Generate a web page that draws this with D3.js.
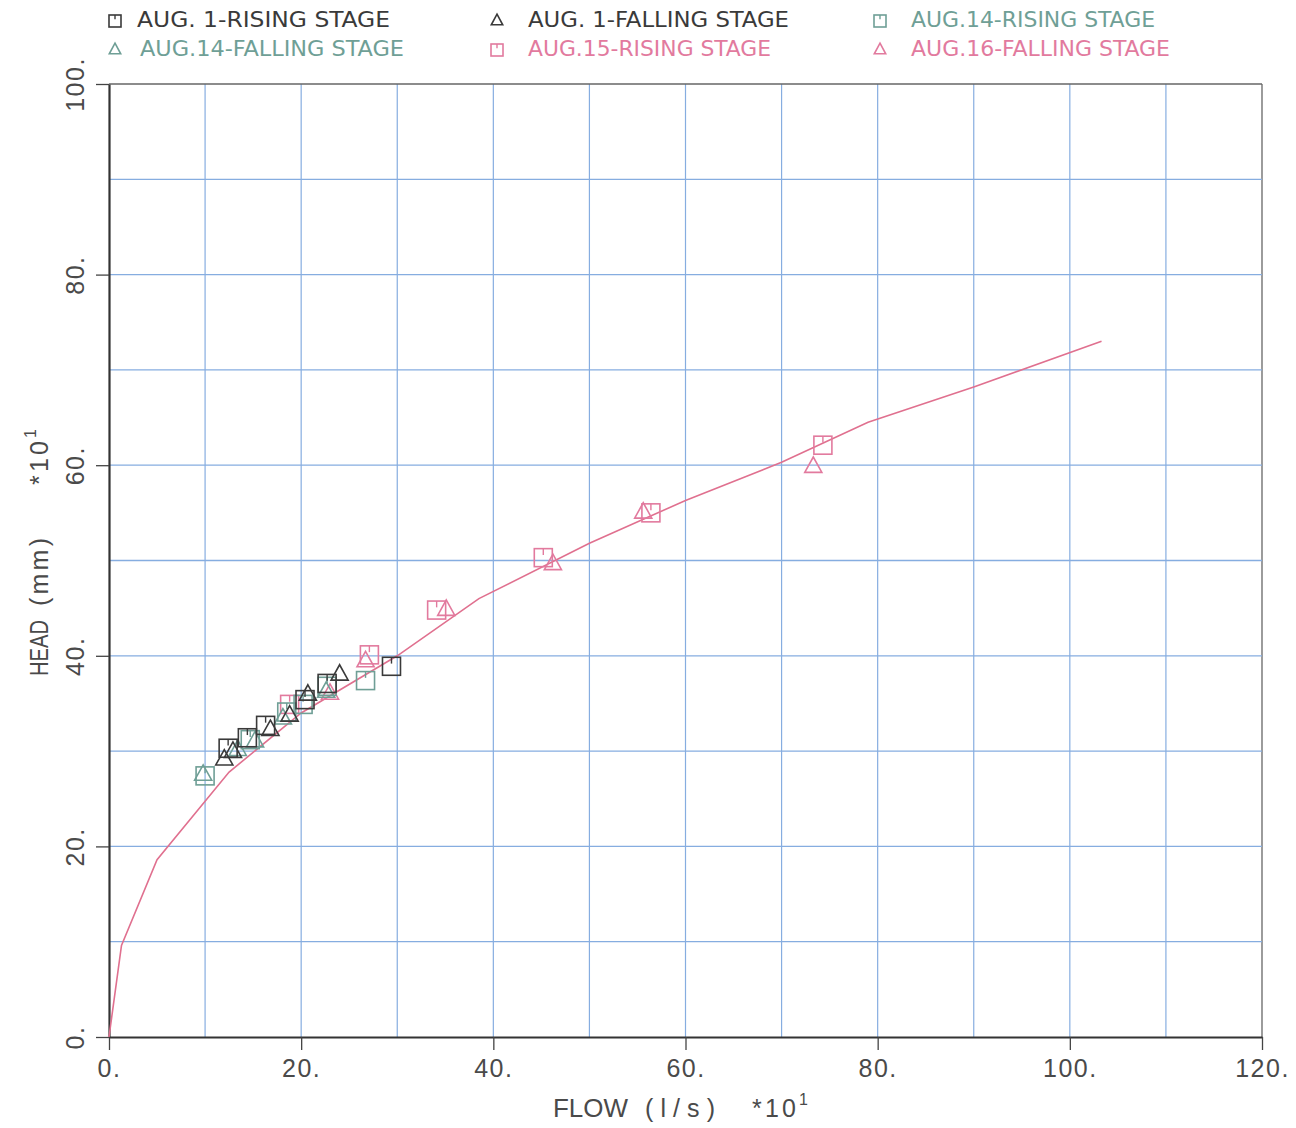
<!DOCTYPE html>
<html>
<head>
<meta charset="utf-8">
<script src="https://cdn.jsdelivr.net/npm/d3@7"></script>
<style>
  html, body { margin: 0; padding: 0; background: #ffffff; }
  svg { display: block; }
</style>
</head>
<body>
<svg id="chart" width="1296" height="1128"></svg>
<script>
// ---- data (units: flow *10 l/s, head *10 mm) ----
const curveFlow = [0, 1.3, 5.0, 12.5, 20.0, 30.0, 38.5, 50.0, 60.0, 70.0, 79.0, 90.0, 103.3];
const curveHead = [0, 9.6, 18.6, 27.8, 34.0, 40.0, 46.0, 51.8, 56.3, 60.3, 64.5, 68.2, 73.0];

const aug1RiseFlow = [12.4, 14.4, 16.3, 20.4, 22.7, 29.4];
const aug1RiseHead = [30.3, 31.4, 32.7, 35.4, 37.1, 38.9];
const aug1FallFlow = [12.0, 12.9, 16.8, 18.8, 20.7, 24.0];
const aug1FallHead = [29.3, 30.1, 32.4, 33.9, 36.1, 38.2];
const aug14RiseFlow = [10.0, 14.7, 18.5, 20.2, 22.7, 26.7];
const aug14RiseHead = [27.4, 31.2, 34.1, 34.9, 36.8, 37.4];
const aug14FallFlow = [9.8, 13.4, 15.2, 18.1, 22.6];
const aug14FallHead = [27.7, 30.3, 31.2, 33.6, 36.4];
const aug15RiseFlow = [18.8, 27.1, 34.1, 45.2, 56.4, 74.3];
const aug15RiseHead = [34.9, 40.1, 44.8, 50.3, 55.0, 62.1];
const aug16FallFlow = [23.0, 26.7, 35.1, 46.2, 55.6, 73.3];
const aug16FallHead = [36.2, 39.6, 45.0, 49.8, 55.2, 60.0];

const seriesNames = ["AUG. 1-RISING STAGE", "AUG. 1-FALLING STAGE", "AUG.14-RISING STAGE",
                     "AUG.14-FALLING STAGE", "AUG.15-RISING STAGE", "AUG.16-FALLING STAGE"];
const seriesShapes = ["square", "triangle", "square", "triangle", "square", "triangle"];
const seriesColors = ["#3a3a3a", "#3a3a3a", "#6f9f96", "#6f9f96", "#e27a9e", "#e27a9e"];
const legendTextWidths = [253, 261, 244, 264, 243, 259];

const xTicks = [0, 20, 40, 60, 80, 100, 120];
const yTicks = [0, 20, 40, 60, 80, 100];
const xTickLabels = ["0.", "20.", "40.", "60.", "80.", "100.", "120."];
const yTickLabels = ["0.", "20.", "40.", "60.", "80.", "100."];
const xTitleWords = ["FLOW", "(l/s)", "*10"];
const yTitleWords = ["HEAD", "(mm)", "*10"];
const scaleExp = "1";
const gridStep = 10;

// ---- layout ----
const svg = d3.select("#chart");
const plotLeft = 109, plotRight = 1262, plotTop = 84, plotBottom = 1037;
const x = d3.scaleLinear().domain([0, 120]).range([plotLeft, plotRight]);
const y = d3.scaleLinear().domain([0, 100]).range([plotBottom, plotTop]);

const tickFont = "'Liberation Sans', Arial, sans-serif";
const legendFont = "'DejaVu Sans Condensed', 'Liberation Sans Narrow', 'DejaVu Sans', sans-serif";

// grid
const gridX = d3.range(gridStep, 120 + 0.1, gridStep);
const gridY = d3.range(gridStep, 100 + 0.1, gridStep);
svg.append("g").selectAll("line").data(gridX).join("line")
  .attr("x1", d => x(d)).attr("x2", d => x(d)).attr("y1", y(0)).attr("y2", y(100))
  .attr("stroke", d => d === 120 ? "#666" : "#86ade0").attr("stroke-width", d => d === 120 ? 1.3 : 1.2);
svg.append("g").selectAll("line").data(gridY).join("line")
  .attr("x1", x(0)).attr("x2", x(120)).attr("y1", d => y(d)).attr("y2", d => y(d))
  .attr("stroke", d => d === 100 ? "#666" : "#86ade0").attr("stroke-width", 1.3);

// axes
const xAxis = d3.axisBottom(x).tickValues(xTicks).tickSize(13).tickSizeOuter(0)
  .tickFormat((d, i) => xTickLabels[i]);
const gx = svg.append("g").attr("transform", `translate(0,${plotBottom})`).call(xAxis);
gx.select(".domain").attr("stroke", "#333").attr("stroke-width", 2.2);
gx.selectAll(".tick line").attr("stroke", "#444").attr("stroke-width", 1.3);
gx.selectAll(".tick text").attr("font-family", tickFont).attr("font-size", 25)
  .attr("fill", "#4a4a4a").attr("letter-spacing", 1.5).attr("dy", "0.95em");

const yAxis = d3.axisLeft(y).tickValues(yTicks).tickSize(13).tickSizeOuter(0)
  .tickFormat((d, i) => yTickLabels[i]);
const gy = svg.append("g").attr("transform", `translate(${plotLeft},0)`).call(yAxis);
gy.select(".domain").attr("stroke", "#333").attr("stroke-width", 2.2);
gy.selectAll(".tick line").attr("stroke", "#444").attr("stroke-width", 1.3);
gy.selectAll(".tick text").attr("font-family", tickFont).attr("font-size", 25)
  .attr("fill", "#4a4a4a").attr("letter-spacing", 1.5)
  .attr("x", 0).attr("dy", 0).attr("text-anchor", "middle")
  .attr("transform", "translate(-25,0) rotate(-90)");

// axis titles: [offset, length, adjust] per word
function axisTitle(g, words, layout) {
  words.forEach((w, i) => {
    const [off, len, adj] = layout[i];
    g.append("text").attr("x", off).attr("y", 0).attr("textLength", len)
      .attr("lengthAdjust", adj).text(w);
  });
  const last = layout[layout.length - 1];
  g.append("text").attr("x", last[0] + last[1] + 3).attr("y", -12)
    .attr("font-size", 16).text(scaleExp);
}
const xtG = svg.append("g").attr("transform", "translate(553,1117)")
  .attr("font-family", tickFont).attr("font-size", 25).attr("fill", "#4a4a4a");
axisTitle(xtG, xTitleWords, [[0, 75, "spacingAndGlyphs"], [92, 70, "spacing"], [199, 44, "spacing"]]);
const ytG = svg.append("g").attr("transform", "translate(48,676) rotate(-90)")
  .attr("font-family", tickFont).attr("font-size", 25).attr("fill", "#4a4a4a");
axisTitle(ytG, yTitleWords, [[0, 56, "spacingAndGlyphs"], [70, 68, "spacing"], [191, 44, "spacing"]]);

// fitted curve
const curve = d3.zip(curveFlow, curveHead);
svg.append("path").datum(curve)
  .attr("d", d3.line().x(d => x(d[0])).y(d => y(d[1])))
  .attr("fill", "none").attr("stroke", "#e0708f").attr("stroke-width", 1.6);

// markers
function drawMarker(g, shape, cx, cy, color, size) {
  if (shape === "square") {
    const h = size / 2;
    g.append("rect").attr("x", cx - h).attr("y", cy - h).attr("width", size).attr("height", size)
      .attr("fill", "none").attr("stroke", color).attr("stroke-width", 1.6);
    g.append("line").attr("x1", cx).attr("x2", cx).attr("y1", cy - h).attr("y2", cy - h + size * 0.35)
      .attr("stroke", color).attr("stroke-width", 1.4);
  } else {
    const w = size * 0.95, hgt = size * 0.8;
    const pts = [[cx, cy - hgt / 2 - 1], [cx + w / 2, cy + hgt / 2], [cx - w / 2, cy + hgt / 2]];
    g.append("path").attr("d", "M" + pts.map(p => p.join(",")).join("L") + "Z")
      .attr("fill", "none").attr("stroke", color).attr("stroke-width", 1.6);
  }
}

const seriesData = [
  [aug1RiseFlow, aug1RiseHead], [aug1FallFlow, aug1FallHead],
  [aug14RiseFlow, aug14RiseHead], [aug14FallFlow, aug14FallHead],
  [aug15RiseFlow, aug15RiseHead], [aug16FallFlow, aug16FallHead]
];
const drawOrder = [4, 5, 2, 3, 0, 1];
drawOrder.forEach(si => {
  const g = svg.append("g");
  const [fx, hy] = seriesData[si];
  fx.forEach((f, i) => drawMarker(g, seriesShapes[si], x(f), y(hy[i]), seriesColors[si], 18));
});

// legend
const legendCols = [115, 497, 880];
const legendRows = [19, 48];
seriesNames.forEach((name, i) => {
  const col = i % 3, row = Math.floor(i / 3);
  const sx = legendCols[col], sy = legendRows[row];
  const g = svg.append("g");
  drawMarker(g, seriesShapes[i], sx, sy + (seriesShapes[i] === "square" ? 2 : 1), seriesColors[i], 12);
  g.append("text").attr("x", sx + (col === 0 && row === 1 ? 25 : (col === 0 ? 22 : 31)))
    .attr("y", sy + 8).attr("font-family", legendFont).attr("font-size", 21)
    .attr("fill", seriesColors[i])
    .attr("textLength", legendTextWidths[i]).attr("lengthAdjust", "spacingAndGlyphs")
    .text(name);
});
</script>
</body>
</html>
